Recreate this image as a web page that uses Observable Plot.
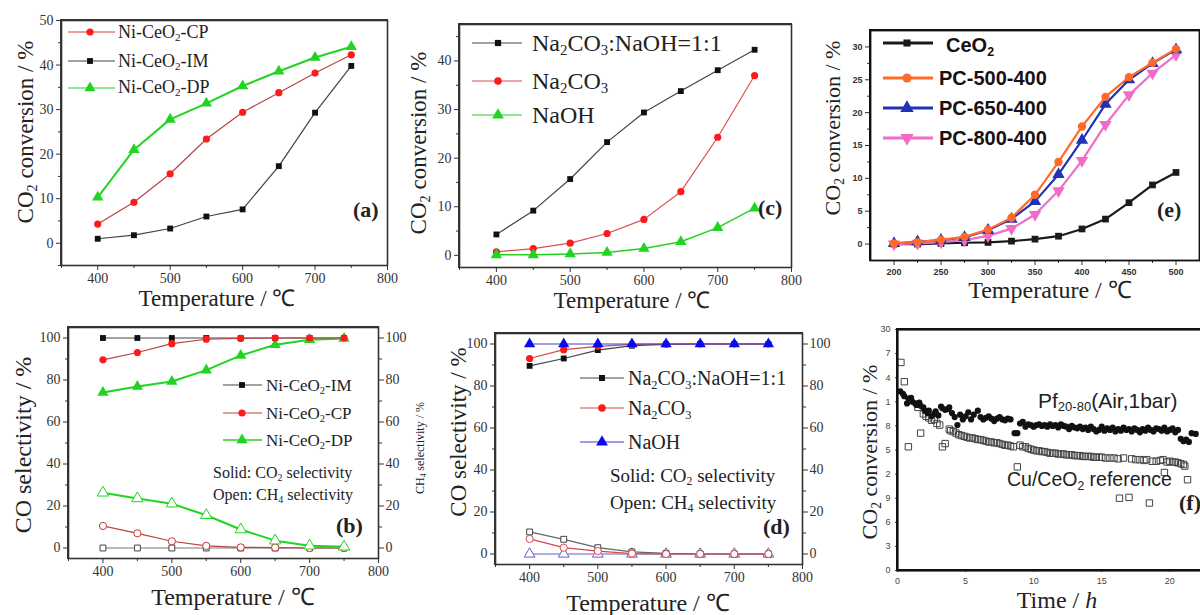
<!DOCTYPE html>
<html><head><meta charset="utf-8">
<script src="https://cdn.jsdelivr.net/npm/d3@7"></script>
<script src="https://cdn.jsdelivr.net/npm/@observablehq/plot@0.6"></script>
<style>
html,body{margin:0;padding:0;background:#fff;}
body{position:relative;width:1200px;height:615px;overflow:hidden;font-family:"Liberation Serif","Times New Roman",serif;color:#222;}
.t{position:absolute;white-space:nowrap;line-height:1;z-index:5;}
sub{font-size:0.62em;vertical-align:-0.3em;line-height:0;}
.panel{position:absolute;z-index:1;}
.panel svg{max-width:none !important;}
.box{position:absolute;box-sizing:border-box;border-style:solid;z-index:6;pointer-events:none;background:transparent;}
</style></head><body>
<script>
// ---------- DATA ----------
// (a) CO2 conversion vs temperature
const tempA = [400, 450, 500, 550, 600, 650, 700, 750];
const aCP = [4.3, 9.2, 15.6, 23.4, 29.4, 33.8, 38.2, 42.3];
const aIM = [1.0, 1.8, 3.3, 6.0, 7.6, 17.3, 29.3, 39.8];
const aDP = [10.3, 21.0, 27.8, 31.4, 35.3, 38.6, 41.7, 44.1];
// (c)
const cMix = [4.3, 9.2, 15.7, 23.3, 29.4, 33.8, 38.1, 42.3];
const cNa2CO3 = [0.7, 1.4, 2.5, 4.5, 7.4, 13.1, 24.3, 37.0];
const cNaOH = [0.1, 0.1, 0.3, 0.6, 1.4, 2.8, 5.7, 9.7];
// (e)
const tempE = [200, 225, 250, 275, 300, 325, 350, 375, 400, 425, 450, 475, 500];
const eCeO2 = [0.0, 0.0, 0.1, 0.2, 0.25, 0.45, 0.75, 1.2, 2.3, 3.8, 6.3, 9.0, 10.9];
const ePC500 = [0.1, 0.3, 0.65, 1.1, 2.2, 4.0, 7.5, 12.5, 17.9, 22.4, 25.4, 27.6, 29.7];
const ePC650 = [0.1, 0.35, 0.6, 1.0, 2.1, 3.8, 6.5, 10.6, 15.8, 21.3, 25.0, 27.5, 29.6];
const ePC800 = [0.0, 0.1, 0.3, 0.6, 1.25, 2.35, 4.5, 8.1, 12.7, 18.2, 22.7, 26.0, 28.8];
// (b) selectivity (solid: CO, open: CH4)
const bIM_CO = [100, 100, 100, 100, 100, 100, 100, 100];
const bCP_CO = [89.6, 93.1, 97.3, 99.4, 99.8, 100, 100, 100];
const bDP_CO = [74.0, 76.9, 79.3, 84.7, 91.7, 96.8, 99.2, 99.8];
const bIM_CH4 = [0, 0, 0, 0, 0, 0, 0, 0];
const bCP_CH4 = [10.5, 7.0, 3.2, 1.0, 0.3, 0.2, 0, 0];
const bDP_CH4 = [26.3, 23.6, 21.1, 15.6, 8.8, 3.5, 1.1, 0.6];
// (d)
const dMix_CO = [89.6, 93.1, 97.1, 99.2, 99.8, 100, 100, 100];
const dNa_CO = [93.1, 97.3, 98.9, 99.8, 100, 100, 100, 100];
const dOH_CO = [100, 100, 100, 100, 100, 100, 100, 100];
const dMix_CH4 = [10.5, 7.0, 3.0, 1.0, 0.3, 0, 0, 0];
const dNa_CH4 = [7.2, 3.0, 1.4, 0.2, 0, 0, 0, 0];
const dOH_CH4 = [0, 0, 0, 0, 0, 0, 0, 0];
// (f) time on stream
const fPfTime = [0.2,0.4,0.5,0.7,0.8,1.0,1.1,1.3,1.4,1.6,1.7,1.9,2.0,2.2,2.3,2.5,2.7,2.8,3.0,3.2,3.3,3.5,3.7,3.8,4.0,4.2,4.4,4.6,4.8,5.0,5.2,5.4,5.6,5.9,6.1,6.3,6.5,6.7,6.9,7.1,7.3,7.5,7.7,7.9,8.1,8.3,8.6,8.8,9.0,9.2,9.4,9.6,9.8,10.0,10.2,10.4,10.6,10.8,11.0,11.2,11.4,11.6,11.8,12.0,12.2,12.4,12.6,12.8,13.0,13.2,13.4,13.6,13.8,14.0,14.2,14.4,14.6,14.8,15.0,15.2,15.4,15.6,15.8,16.0,16.2,16.4,16.6,16.8,17.0,17.2,17.4,17.6,17.8,18.0,18.2,18.4,18.6,18.8,19.0,19.2,19.4,19.6,19.8,20.0,20.2,20.4,20.6,20.8,21.0,21.2,21.4,21.6,21.9];
const fPfConv = [22.3,22.0,21.7,20.8,21.4,21.5,21.0,20.8,20.6,20.9,20.5,20.3,19.9,19.6,19.9,19.2,19.5,19.8,19.3,20.4,20.2,20.0,20.1,20.3,19.6,19.1,18.1,19.4,18.8,19.2,19.7,18.8,19.4,19.9,19.1,18.8,19.0,19.2,18.9,18.6,18.9,19.1,18.8,18.7,18.9,18.8,17.1,17.1,18.3,18.5,17.9,18.2,18.1,17.9,18.1,18.2,18.0,18.1,17.9,18.2,18.0,18.1,17.8,18.2,18.0,17.9,17.6,18.0,17.8,17.7,17.9,17.6,17.8,17.5,17.9,17.6,17.3,17.5,17.9,17.4,17.7,17.5,17.8,17.3,17.6,17.4,17.8,17.5,17.6,17.3,17.7,17.5,17.2,17.6,17.4,17.8,17.5,17.3,17.7,17.6,17.4,17.8,17.3,17.5,17.7,17.2,17.5,16.4,16.1,16.3,16.0,17.1,17.0];
const fCuTime = [0.25,0.5,0.8,1.5,1.7,1.9,2.1,2.3,2.5,2.7,2.9,3.1,3.3,3.5,3.8,3.9,4.1,4.3,4.5,4.7,4.9,5.1,5.3,5.5,5.7,5.9,6.1,6.3,6.5,6.7,6.9,7.1,7.3,7.5,7.7,7.9,8.1,8.3,8.5,8.8,9.0,9.2,9.4,9.6,9.8,10.0,10.2,10.4,10.6,10.8,11.0,11.2,11.4,11.6,11.8,12.0,12.2,12.4,12.6,12.8,13.0,13.2,13.4,13.6,13.8,14.0,14.2,14.4,14.6,14.8,15.0,15.3,15.6,15.9,16.2,16.3,16.6,17.0,17.2,17.5,17.8,18.1,18.3,18.5,18.7,19.0,19.3,19.5,19.6,19.8,20.0,20.2,20.4,20.6,20.8,21.0,21.1,21.3];
const fCuConv = [25.9,23.5,15.4,20.3,17.1,19.5,19.2,19.0,18.7,18.8,18.3,18.1,15.4,15.8,17.6,17.4,17.3,17.1,16.9,16.8,16.7,16.6,16.5,16.5,16.4,16.3,16.3,16.2,16.1,16.0,16.0,15.9,15.9,15.8,15.7,15.6,15.6,15.5,15.4,12.9,15.6,15.4,15.4,15.2,15.1,15.0,14.9,14.9,14.8,14.8,14.7,14.6,14.6,14.6,14.5,14.5,14.5,14.4,14.4,14.4,14.3,14.3,14.3,14.2,14.2,14.2,14.2,14.1,14.1,14.1,14.1,14.0,14.0,14.0,13.9,9.0,14.0,9.1,13.9,13.8,13.8,13.7,13.8,8.4,13.6,13.6,13.7,13.8,12.2,13.5,13.6,13.5,13.5,13.4,13.3,13.2,13.0,11.3];
// tick values / labels
const tTicks = [400, 500, 600, 700, 800];
const tMinor = [350, 450, 550, 650, 750];
const aYTicks = [0, 10, 20, 30, 40, 50];
const aYMinor = [-5, 5, 15, 25, 35, 45];
const cYTicks = [0, 10, 20, 30, 40];
const cYMinor = [5, 15, 25, 35, 45];
const selTicks = [0, 20, 40, 60, 80, 100];
const selMinor = [10, 30, 50, 70, 90];
const eXTicks = [200, 250, 300, 350, 400, 450, 500];
const eXMinor = [225, 275, 325, 375, 425, 475];
const eYTicks = [0, 5, 10, 15, 20, 25, 30];
const eYMinor = [2.5, 7.5, 12.5, 17.5, 22.5, 27.5];
const fXTicks = [0, 5, 10, 15, 20];
const fYTicks = [0, 3, 6, 9, 12, 15, 18, 21, 24, 27, 30];
const fYLabels = ["0", "3", "6", "9", "2", "5", "8", "1", "4", "7", "30"];

// ---------- HELPERS ----------
const ov = d3.select("body").append("svg").attr("width", 1200).attr("height", 615)
  .style("position", "absolute").style("left", 0).style("top", 0)
  .style("pointer-events", "none").style("z-index", 4);
function txt(html, x, y, o = {}) {
  const d = document.createElement("div");
  d.className = "t"; d.innerHTML = html;
  d.style.left = x + "px"; d.style.top = y + "px";
  d.style.fontSize = (o.size || 16) + "px";
  if (o.weight) d.style.fontWeight = o.weight;
  if (o.family) d.style.fontFamily = o.family;
  if (o.color) d.style.color = o.color;
  let tr = o.anchor === "middle" ? "translate(-50%,-50%)" : "translate(0,-50%)";
  if (o.rotate) tr = "translate(-50%,-50%) rotate(-90deg)";
  d.style.transform = tr;
  document.body.appendChild(d);
}
function panel({frame: [L, T, R, B], x, y, marks, style = {}, box = {w: 1.6, c: "#333"}}) {
  const ml = 50, mt = 12, mr = 40, mb = 32;
  const W = R - L + ml + mr, H = B - T + mt + mb;
  const svg = Plot.plot({
    width: W, height: H,
    marginLeft: ml, marginTop: mt, marginRight: mr, marginBottom: mb,
    x: {...x, label: null}, y: {...y, label: null},
    style: {background: "transparent", overflow: "visible", color: "#333",
      fontFamily: "Liberation Serif", fontSize: "14px", maxWidth: "none", ...style},
    marks: [...marks, Plot.frame({stroke: box.c, strokeWidth: box.w})]
  });
  svg.style.maxWidth = "none";
  svg.setAttribute("width", W); svg.setAttribute("height", H);
  svg.style.width = W + "px"; svg.style.height = H + "px";
  const w = document.createElement("div"); w.className = "panel";
  w.style.left = (L - ml) + "px"; w.style.top = (T - mt) + "px";
  w.style.width = W + "px"; w.style.height = H + "px";
  w.appendChild(svg); document.body.appendChild(w);
  // panel border as a CSS box exactly over the plot frame
  const b = document.createElement("div"); b.className = "box";
  const h = box.w / 2;
  b.style.left = (L - h) + "px"; b.style.top = (T - h) + "px";
  b.style.width = (R - L + box.w) + "px"; b.style.height = (B - T + box.w) + "px";
  b.style.borderColor = box.c; b.style.borderWidth = box.w + "px";
  document.body.appendChild(b);
}
function series(xs, ys, o) {
  const data = xs.map((x, i) => ({x, y: ys[i]}));
  const m = [];
  if (o.line) m.push(Plot.line(data, {x: "x", y: "y", stroke: o.line, strokeWidth: o.lw || 1.2}));
  m.push(Plot.dot(data, {x: "x", y: "y", symbol: o.symbol || "circle", r: o.r || 3.5,
    fill: o.fill || "none", stroke: o.stroke || "none", strokeWidth: o.sw || 1, rotate: o.rotate || 0}));
  return m;
}
const blank = () => "";
function axes({xt, xm, yt, ym, right, fs = 14}) {
  const m = [
    Plot.axisX({ticks: xt, tickSize: 5, tickPadding: 3, fontSize: fs}),
    Plot.axisY({ticks: yt, tickSize: 5, tickPadding: 3, fontSize: fs})
  ];
  if (xm) m.push(Plot.axisX({ticks: xm, tickSize: 3, tickFormat: blank}));
  if (ym) m.push(Plot.axisY({ticks: ym, tickSize: 3, tickFormat: blank}));
  if (right) {
    m.push(Plot.axisY({anchor: "right", ticks: yt, tickSize: 5, tickPadding: 2, fontSize: fs}));
    if (ym) m.push(Plot.axisY({anchor: "right", ticks: ym, tickSize: 3, tickFormat: blank}));
  }
  return m;
}

const RED = "#ff1a1a", REDL = "#b84444", GRN = "#22d422", BLK = "#111", GRY = "#444";

// ---------- PANEL (a) ----------
panel({frame: [61, 20, 387, 265], x: {domain: [350, 800]}, y: {domain: [-5, 50]},
  marks: [
    ...axes({xt: tTicks, xm: tMinor, yt: aYTicks, ym: aYMinor}),
    ...series(tempA, aIM, {line: GRY, symbol: "square", fill: BLK, r: 3.3}),
    ...series(tempA, aCP, {line: REDL, symbol: "circle", fill: RED, r: 3.6}),
    ...series(tempA, aDP, {line: GRN, lw: 2, symbol: "triangle", fill: GRN, r: 4.2})
  ]});
// ---------- PANEL (c) ----------
panel({frame: [459, 24, 791, 267], x: {domain: [350, 800]}, y: {domain: [-2.5, 47.5]},
  marks: [
    ...axes({xt: tTicks, xm: tMinor, yt: cYTicks, ym: cYMinor}),
    ...series(tempA, cMix, {line: GRY, symbol: "square", fill: BLK, r: 3.3}),
    ...series(tempA, cNa2CO3, {line: "#d85050", symbol: "circle", fill: RED, r: 3.6}),
    ...series(tempA, cNaOH, {line: GRN, lw: 1.5, symbol: "triangle", fill: GRN, r: 4.2})
  ]});
// ---------- PANEL (e) ----------
const eFont = {fontFamily: "Liberation Sans", fontWeight: "bold", fontSize: "9px"};
panel({frame: [870, 30, 1199, 260], x: {domain: [175, 525]}, y: {domain: [-2.5, 32.5]},
  style: eFont, box: {w: 1.8, c: "#111"},
  marks: [
    ...axes({xt: eXTicks, xm: eXMinor, yt: eYTicks, ym: eYMinor, fs: 9}),
    ...series(tempE, eCeO2, {line: "#1a1a1a", lw: 2.2, symbol: "square", fill: "#1a1a1a", r: 3.8}),
    ...series(tempE, ePC800, {line: "#f06cc8", lw: 2.2, symbol: "triangle", fill: "#f06cc8", r: 4.6, rotate: 180}),
    ...series(tempE, ePC650, {line: "#1f33b8", lw: 2.2, symbol: "triangle", fill: "#1f33b8", r: 4.6}),
    ...series(tempE, ePC500, {line: "#ff6a2a", lw: 2.2, symbol: "circle", fill: "#ff6a2a", r: 4.2})
  ]});
// ---------- PANEL (b) ----------
panel({frame: [68, 327, 378, 558], x: {domain: [350, 800]}, y: {domain: [-5, 105]},
  marks: [
    ...axes({xt: tTicks, xm: tMinor, yt: selTicks, ym: selMinor, right: true}),
    ...series(tempA, bIM_CH4, {line: "#777", symbol: "square", fill: "white", stroke: GRY, r: 3.3}),
    ...series(tempA, bCP_CH4, {line: REDL, symbol: "circle", fill: "white", stroke: "#c33", r: 3.6}),
    ...series(tempA, bDP_CH4, {line: GRN, lw: 2, symbol: "triangle", fill: "white", stroke: GRN, r: 4.2}),
    ...series(tempA, bIM_CO, {line: GRY, symbol: "square", fill: BLK, r: 3.3}),
    ...series(tempA, bDP_CO, {line: GRN, lw: 2, symbol: "triangle", fill: GRN, r: 4.2}),
    ...series(tempA, bCP_CO, {line: REDL, symbol: "circle", fill: RED, r: 3.6})
  ]});
// ---------- PANEL (d) ----------
panel({frame: [495, 333, 802, 564], x: {domain: [350, 800]}, y: {domain: [-5, 105]},
  marks: [
    ...axes({xt: tTicks, xm: tMinor, yt: selTicks, ym: selMinor, right: true}),
    ...series(tempA, dOH_CH4, {line: "#6060c8", symbol: "triangle", fill: "white", stroke: "#6060c8", r: 4}),
    ...series(tempA, dMix_CH4, {line: "#666", symbol: "square", fill: "white", stroke: GRY, r: 3.3}),
    ...series(tempA, dNa_CH4, {line: "#d84848", symbol: "circle", fill: "white", stroke: "#d84848", r: 3.6}),
    ...series(tempA, dMix_CO, {line: GRY, symbol: "square", fill: BLK, r: 3.3}),
    ...series(tempA, dNa_CO, {line: "#d84848", symbol: "circle", fill: RED, r: 3.6}),
    ...series(tempA, dOH_CO, {line: "#3a3ad0", symbol: "triangle", fill: "#0a0af0", r: 4.2})
  ]});
// ---------- PANEL (f) ----------
panel({frame: [897, 329, 1217, 570], x: {domain: [0, 23.5]}, y: {domain: [0, 30]},
  style: {fontFamily: "Liberation Sans", fontSize: "9px", color: "#444"}, box: {w: 2.2, c: "#111"},
  marks: [
    Plot.axisX({ticks: fXTicks, tickSize: 2, tickPadding: 5, fontSize: 9}),
    Plot.axisY({ticks: fYTicks, tickSize: 2, tickPadding: 5, fontSize: 9,
      tickFormat: d => fYLabels[fYTicks.indexOf(d)]}),
    ...series(fCuTime, fCuConv, {symbol: "square", fill: "none", stroke: "#444", sw: 1, r: 3.6}),
    ...series(fPfTime, fPfConv, {symbol: "circle", fill: "#111", r: 3.1})
  ]});

// ---------- LEGEND SWATCHES ----------
const SYM = {circle: d3.symbolCircle, square: d3.symbolSquare, triangle: d3.symbolTriangle};
function sw(x0, x1, xm, y, {line, lw = 1.2, fill, stroke = "none", shape, r, rot = 0}) {
  ov.append("line").attr("x1", x0).attr("x2", x1).attr("y1", y).attr("y2", y)
    .attr("stroke", line).attr("stroke-width", lw);
  ov.append("path").attr("d", d3.symbol(SYM[shape], Math.PI * r * r)())
    .attr("transform", `translate(${xm},${y}) rotate(${rot})`)
    .attr("fill", fill).attr("stroke", stroke);
}
// (a)
sw(68, 115, 90, 32, {line: "#e03a3a", fill: RED, shape: "circle", r: 3.6});
sw(68, 115, 90, 61, {line: GRY, fill: BLK, shape: "square", r: 3.3});
sw(68, 115, 90, 88, {line: GRN, fill: GRN, shape: "triangle", r: 4.2});
txt("Ni-CeO<sub>2</sub>-CP", 118, 32, {size: 18});
txt("Ni-CeO<sub>2</sub>-IM", 118, 61, {size: 18});
txt("Ni-CeO<sub>2</sub>-DP", 118, 87, {size: 18});
txt("(a)", 353, 210, {size: 22, weight: "bold"});
txt("Temperature / ℃", 217, 298, {size: 23, anchor: "middle"});
txt("CO<sub>2</sub> conversion / %", 25, 132, {size: 23, rotate: true});
// (c)
sw(472, 522, 498, 43, {line: GRY, fill: BLK, shape: "square", r: 3.5});
sw(472, 522, 498, 81, {line: "#d85050", fill: RED, shape: "circle", r: 3.8});
sw(472, 522, 498, 115, {line: GRN, fill: GRN, shape: "triangle", r: 4.4});
txt("Na<sub>2</sub>CO<sub>3</sub>:NaOH=1:1", 532, 43, {size: 24});
txt("Na<sub>2</sub>CO<sub>3</sub>", 532, 81, {size: 24});
txt("NaOH", 532, 115, {size: 24});
txt("(c)", 758, 208, {size: 22, weight: "bold"});
txt("Temperature / ℃", 632, 300, {size: 23, anchor: "middle"});
txt("CO<sub>2</sub> conversion / %", 418, 143, {size: 23, rotate: true});
// (e)
const ES = {size: 20, weight: "bold", family: "Liberation Sans", color: "#1a1014"};
sw(883, 933, 907, 43, {line: "#1a1a1a", lw: 3, fill: "#1a1a1a", shape: "square", r: 4});
sw(883, 933, 907, 78, {line: "#ff6a2a", lw: 3, fill: "#ff6a2a", shape: "circle", r: 4.6});
sw(883, 933, 907, 108, {line: "#1f33b8", lw: 3, fill: "#1f33b8", shape: "triangle", r: 5});
sw(883, 933, 907, 138, {line: "#f06cc8", lw: 3, fill: "#f06cc8", shape: "triangle", r: 5, rot: 180});
txt("CeO<sub>2</sub>", 946, 45, ES);
txt("PC-500-400", 939, 78, ES);
txt("PC-650-400", 939, 108, ES);
txt("PC-800-400", 939, 138, ES);
txt("(e)", 1157, 210, {size: 22, weight: "bold"});
txt("Temperature / ℃", 1050, 290, {size: 24, anchor: "middle"});
txt("CO<sub>2</sub> conversion / %", 833, 128, {size: 22, rotate: true});
// (b)
sw(223, 262, 242, 385, {line: GRY, fill: BLK, shape: "square", r: 3.3});
sw(223, 262, 242, 413, {line: REDL, fill: RED, shape: "circle", r: 3.6});
sw(223, 262, 242, 440, {line: GRN, lw: 1.6, fill: GRN, shape: "triangle", r: 4.2});
txt("Ni-CeO<sub>2</sub>-IM", 266, 385, {size: 17});
txt("Ni-CeO<sub>2</sub>-CP", 266, 413, {size: 17});
txt("Ni-CeO<sub>2</sub>-DP", 266, 440, {size: 17});
txt("Solid: CO<sub>2</sub> selectivity", 213, 473, {size: 16});
txt("Open: CH<sub>4</sub> selectivity", 213, 495, {size: 16});
txt("(b)", 336, 526, {size: 22, weight: "bold"});
txt("Temperature / ℃", 233, 597, {size: 24, anchor: "middle"});
txt("CO selectivity / %", 23, 445, {size: 24, rotate: true});
txt("CH<sub>4</sub> selectivity / %", 420, 448, {size: 12, rotate: true});
// (d)
sw(580, 624, 602, 378, {line: GRY, fill: BLK, shape: "square", r: 3.4});
sw(580, 624, 602, 408, {line: "#d84848", fill: RED, shape: "circle", r: 3.8});
sw(580, 624, 602, 442, {line: "#3a3ad0", fill: "#0a0af0", shape: "triangle", r: 4.4});
txt("Na<sub>2</sub>CO<sub>3</sub>:NaOH=1:1", 628, 378, {size: 20});
txt("Na<sub>2</sub>CO<sub>3</sub>", 628, 408, {size: 20});
txt("NaOH", 628, 442, {size: 20});
txt("Solid: CO<sub>2</sub> selectivity", 610, 475, {size: 19});
txt("Open: CH<sub>4</sub> selectivity", 610, 502, {size: 19});
txt("(d)", 763, 527, {size: 22, weight: "bold"});
txt("Temperature / ℃", 648, 603, {size: 24, anchor: "middle"});
txt("CO selectivity / %", 458, 432, {size: 23, rotate: true});
// (f)
txt("Pf<sub>20-80</sub>(Air,1bar)", 1038, 400, {size: 21, family: "Liberation Sans", color: "#222"});
txt("Cu/CeO<sub>2</sub> reference", 1007, 480, {size: 19.5, family: "Liberation Sans", color: "#222"});
txt("(f)", 1179, 503, {size: 22, weight: "bold"});
txt("Time / <i>h</i>", 1057, 600, {size: 24, anchor: "middle"});
txt("CO<sub>2</sub> conversion / %", 870, 452, {size: 22, rotate: true});
</script></body></html>
